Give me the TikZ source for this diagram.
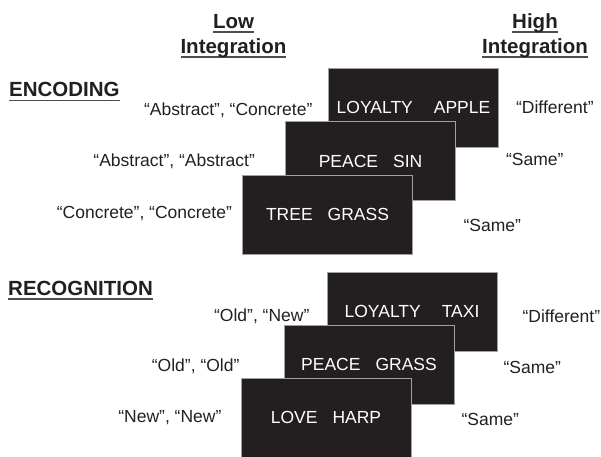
\documentclass[tikz,border=0pt]{standalone}
\usepackage{fontspec}
\setmainfont{Liberation Sans}
\usetikzlibrary{positioning}

\definecolor{ink}{HTML}{231F20}
\definecolor{cardedge}{HTML}{A0A0A0}
\definecolor{rulegray}{HTML}{4D4D4D}
\newcommand{\ulword}[1]{\setbox0\hbox{#1}\rlap{\color{rulegray}\rule[-4.5pt]{\wd0}{1.5pt}}\box0}

\begin{document}
\begin{tikzpicture}[x=1pt,y=-1pt,node distance=15pt,
    head/.style={font=\fontsize{20.5}{25}\selectfont\bfseries, text=ink, inner sep=0pt},
    card/.style={fill=ink, draw=cardedge, line width=0.8pt, minimum width=170pt,
      minimum height=79pt, inner sep=0pt, text=white, font=\fontsize{17.5}{21}\selectfont},
    cue/.style={font=\fontsize{17.5}{21}\selectfont, text=ink, inner sep=0pt}]
    \useasboundingbox (0,0) rectangle (601,456);

    \node[head, anchor=base] (lowA) at (233.5,28) {\ulword{Low}};
    \node[head, anchor=base, yshift=-25pt] (lowB) at (lowA.base) {\ulword{Integration}};
    \node[head, anchor=base] (highA) at (535,28) {\ulword{High}};
    \node[head, anchor=base, yshift=-25pt] (highB) at (highA.base) {\ulword{Integration}};

    \node[head, anchor=base west] (enc) at (9,96.5) {\ulword{ENCODING}};
    \node[card] (E1) at (413.5,107.5) {LOYALTY\hspace{21pt}APPLE};
    \node[card, on grid, below left=53.5pt and 43pt of E1] (E2) {PEACE\hspace{15pt}SIN};
    \node[card, on grid, below left=53.5pt and 43pt of E2] (E3) {TREE\hspace{15pt}GRASS};

    \node[cue, left=15.5pt of E1, yshift=-2.5pt] (E1l) {“Abstract”, “Concrete”};
    \node[cue, right=17pt of E1] (E1r) {“Different”};
    \node[cue, left=30pt of E2] (E2l) {“Abstract”, “Abstract”};
    \node[cue, right=50pt of E2, yshift=2pt] (E2r) {“Same”};
    \node[cue, left=10pt of E3, yshift=1pt] (E3l) {“Concrete”, “Concrete”};
    \node[cue, right=50.5pt of E3, yshift=-10.5pt] (E3r) {“Same”};

    \node[head, anchor=base west] (rec) at (8,295) {\ulword{RECOGNITION}};
    \node[card] (R1) at (412,311.5) {LOYALTY\hspace{21pt}TAXI};
    \node[card, on grid, below left=53pt and 43pt of R1] (R2) {PEACE\hspace{15pt}GRASS};
    \node[card, on grid, below left=53pt and 43pt of R2] (R3) {LOVE\hspace{15pt}HARP};

    \node[cue, left=17pt of R1, yshift=-5pt] (R1l) {“Old”, “New”};
    \node[cue, right=25pt of R1, yshift=-5pt] (R1r) {“Different”};
    \node[cue, left=44pt of R2, yshift=-2pt] (R2l) {“Old”, “Old”};
    \node[cue, right=49pt of R2, yshift=-2.5pt] (R2r) {“Same”};
    \node[cue, left=19pt of R3] (R3l) {“New”, “New”};
    \node[cue, right=50pt of R3, yshift=-1.5pt] (R3r) {“Same”};
  \end{tikzpicture}
\end{document}
